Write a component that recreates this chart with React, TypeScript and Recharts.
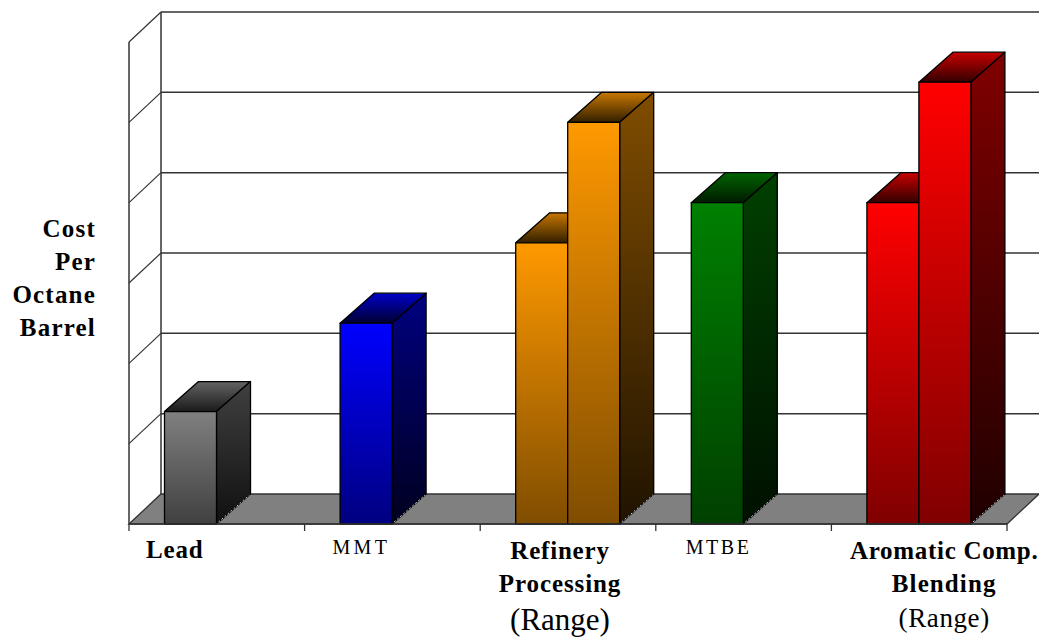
import React from "react";
import { BarChart, Bar, XAxis, YAxis, ReferenceArea, Label } from "recharts";

const categories = ["Lead", "MMT", "Refinery Processing (Range)", "MTBE", "Aromatic Comp. Blending (Range)"];
const lowValues = [1.4, 2.5, 3.5, 4.0, 4.0];
const highValues = [null, null, 5.0, null, 5.5];
const yTicks = [0, 1, 2, 3, 4, 5, 6];
const yTitle = ["Cost", "Per", "Octane", "Barrel"];

const barColors = [[128, 128, 128], [0, 0, 255], [255, 153, 0], [0, 128, 0], [255, 0, 0]];

const tickLabels = [
  { dx: -42, lines: [{ t: "Lead", y: 34, s: 25, w: "bold", ls: 0.8 }] },
  { dx: -31, lines: [{ t: "MMT", y: 30, s: 20, w: "normal", ls: 3.4 }] },
  { dx: -8, lines: [
    { t: "Refinery", y: 35, s: 25, w: "bold", ls: 0.8 },
    { t: "Processing", y: 68, s: 25, w: "bold", ls: 0.9 },
    { t: "(Range)", y: 106, s: 31, w: "normal", ls: 0 },
  ] },
  { dx: -25, lines: [{ t: "MTBE", y: 30, s: 20, w: "normal", ls: 2.5 }] },
  { dx: 25, lines: [
    { t: "Aromatic Comp.", y: 35, s: 25, w: "bold", ls: 0.7 },
    { t: "Blending", y: 68, s: 25, w: "bold", ls: 1.1 },
    { t: "(Range)", y: 103, s: 27, w: "normal", ls: 0.6 },
  ] },
];

const data = categories.map((category, i) => ({ category, low: lowValues[i], high: highValues[i] }));

const WALL = "#333333";
const SERIF = "'Liberation Serif', 'Times New Roman', serif";
const WALL_DX = 32;
const WALL_DY = -30;
const BAR_DX = 34;
const BAR_DY = -30;

const shade = (c: number[], f: number) => `rgb(${c.map((v) => Math.round(v * f)).join(",")})`;

function Box3D(props: any) {
  const { y, width, height, payload, seriesKey } = props;
  if (!height || height <= 0) return null;
  const x = props.x - 0.5;
  const index = categories.indexOf(payload.category);
  const c = barColors[index];
  const id = `${seriesKey}-${index}`;
  const r = x + width;
  const b = y + height;
  return (
    <g stroke="#000" strokeWidth={1.3} strokeLinejoin="round">
      <defs>
        <linearGradient id={`front-${id}`} x1="0" y1="0" x2="0" y2="1">
          <stop offset="0" stopColor={shade(c, 1)} />
          <stop offset="1" stopColor={shade(c, 0.5)} />
        </linearGradient>
        <linearGradient id={`side-${id}`} x1="0" y1="0" x2="0" y2="1">
          <stop offset="0" stopColor={shade(c, 0.5)} />
          <stop offset="1" stopColor={shade(c, 0.125)} />
        </linearGradient>
        <linearGradient id={`top-${id}`} x1="0" y1="0" x2="0" y2="1">
          <stop offset="0" stopColor={shade(c, 0.78)} />
          <stop offset="1" stopColor={shade(c, 0.2)} />
        </linearGradient>
      </defs>
      <path d={`M${x},${y}L${x + BAR_DX},${y + BAR_DY}L${r + BAR_DX},${y + BAR_DY}L${r},${y}Z`} fill={`url(#top-${id})`} />
      <path d={`M${r},${y}L${r + BAR_DX},${y + BAR_DY}L${r + BAR_DX},${b + BAR_DY}L${r},${b}Z`} fill={`url(#side-${id})`} />
      <line x1={r + 2} y1={b - 2} x2={r + BAR_DX - 1} y2={b + BAR_DY + 1} stroke="#c8c8c8" strokeWidth={1} strokeDasharray="2 2" />
      <rect x={x} y={y} width={width} height={height} fill={`url(#front-${id})`} />
    </g>
  );
}

function Floor(props: any) {
  const { x, y, width, height } = props;
  const b = y + height;
  const step = width / categories.length;
  return (
    <g>
      <path d={`M${x + WALL_DX},${y + WALL_DY}L${x + WALL_DX},${b + WALL_DY}`} stroke={WALL} strokeWidth={1.5} fill="none" />
      <path
        d={`M${x},${b}L${x + WALL_DX},${b + WALL_DY}L${x + width + WALL_DX},${b + WALL_DY}L${x + width},${b}Z`}
        fill="#808080"
        stroke={WALL}
        strokeWidth={1.3}
      />
      {[0, 1, 2, 3, 4, 5].map((i) => (
        <line key={i} x1={x + i * step} x2={x + i * step} y1={b} y2={b + 7} stroke={WALL} strokeWidth={1.3} />
      ))}
    </g>
  );
}

function GridRow(props: any) {
  const { x, y, width } = props;
  return (
    <g>
      <line x1={x} y1={y} x2={x + WALL_DX} y2={y + WALL_DY} stroke={WALL} strokeWidth={1.2} />
      <line x1={x + WALL_DX} y1={y + WALL_DY} x2={x + width + WALL_DX} y2={y + WALL_DY} stroke={WALL} strokeWidth={1.5} />
    </g>
  );
}

function CategoryTick(props: any) {
  const { x, y, index } = props;
  const label = tickLabels[index];
  if (!label) return null;
  return (
    <g>
      {label.lines.map((l) => (
        <text
          key={l.t}
          x={x + label.dx}
          y={y + l.y - 8}
          textAnchor="middle"
          fontFamily={SERIF}
          fontSize={l.s}
          fontWeight={l.w}
          letterSpacing={l.ls}
          fill="#000"
        >
          {l.t}
        </text>
      ))}
    </g>
  );
}

function YTitle(props: any) {
  const top = 237;
  return (
    <g>
      {yTitle.map((t, i) => (
        <text
          key={t}
          x={96}
          y={top + i * 33}
          textAnchor="end"
          fontFamily={SERIF}
          fontSize={25}
          fontWeight="bold"
          letterSpacing={1.2}
          fill="#000"
        >
          {t}
        </text>
      ))}
    </g>
  );
}

export default function App() {
  return (
    <div style={{ position: "absolute", left: 0, top: 0, width: 1039, height: 637, background: "#fff", overflow: "hidden" }}>
      <BarChart
        width={1039}
        height={637}
        data={data}
        margin={{ top: 42, right: 32, bottom: 0, left: 0 }}
        barSize={52}
        barGap={0}
        style={{ overflow: "hidden" }}
      >
        {yTicks.slice(1).map((v) => (
          <ReferenceArea key={v} y1={v - 1} y2={v} ifOverflow="visible" shape={<GridRow />} />
        ))}
        <ReferenceArea y1={0} y2={6} shape={<Floor />} ifOverflow="visible" />
        <YAxis
          width={129}
          domain={[0, 6]}
          ticks={yTicks}
          interval={0}
          tick={false}
          tickLine={false}
          axisLine={{ stroke: WALL, strokeWidth: 1.5 }}
        >
          <Label content={<YTitle />} />
        </YAxis>
        <XAxis
          dataKey="category"
          height={113}
          interval={0}
          tickLine={false}
          tick={<CategoryTick />}
          axisLine={{ stroke: WALL, strokeWidth: 1.5 }}
        />
        <Bar dataKey="low" isAnimationActive={false} shape={(p: any) => <Box3D {...p} seriesKey="low" />} />
        <Bar dataKey="high" isAnimationActive={false} shape={(p: any) => <Box3D {...p} seriesKey="high" />} />
      </BarChart>
    </div>
  );
}
